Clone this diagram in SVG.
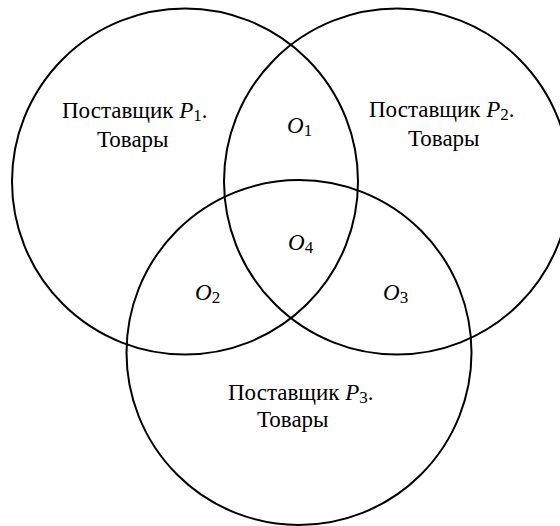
<svg xmlns="http://www.w3.org/2000/svg" width="560" height="526" viewBox="0 0 560 526">
<style>
.c{fill:none;stroke:#000;stroke-width:2}
.t{font-family:"Liberation Serif","Times New Roman",serif;font-size:23px;fill:#000}
.i{font-style:italic}
.s{font-size:17px}
</style>
<rect width="560" height="526" fill="#fff"/>
<g id="set1"><circle class="c" cx="185" cy="181.5" r="173"/>
<text class="t" x="62" y="118">Поставщик <tspan class="i">P</tspan><tspan class="s" dy="3">1</tspan><tspan dy="-3">.</tspan></text>
<text class="t" x="97" y="147">Товары</text></g>
<g id="set2"><circle class="c" cx="397" cy="181.5" r="173"/>
<text class="t" x="369" y="117">Поставщик <tspan class="i">P</tspan><tspan class="s" dy="3">2</tspan><tspan dy="-3">.</tspan></text>
<text class="t" x="408" y="146">Товары</text></g>
<g id="set3"><circle class="c" cx="299" cy="352.5" r="172.5"/>
<text class="t" x="228" y="400">Поставщик <tspan class="i">P</tspan><tspan class="s" dy="3">3</tspan><tspan dy="-3">.</tspan></text>
<text class="t" x="257" y="427">Товары</text></g>
<g id="o1"><text class="t" x="287" y="133"><tspan class="i">O</tspan><tspan class="s" dy="3">1</tspan></text></g>
<g id="o4"><text class="t" x="288" y="250"><tspan class="i">O</tspan><tspan class="s" dy="3">4</tspan></text></g>
<g id="o2"><text class="t" x="195" y="300"><tspan class="i">O</tspan><tspan class="s" dy="3">2</tspan></text></g>
<g id="o3"><text class="t" x="383" y="300"><tspan class="i">O</tspan><tspan class="s" dy="3">3</tspan></text></g>
<g id="connectors"/>
</svg>
